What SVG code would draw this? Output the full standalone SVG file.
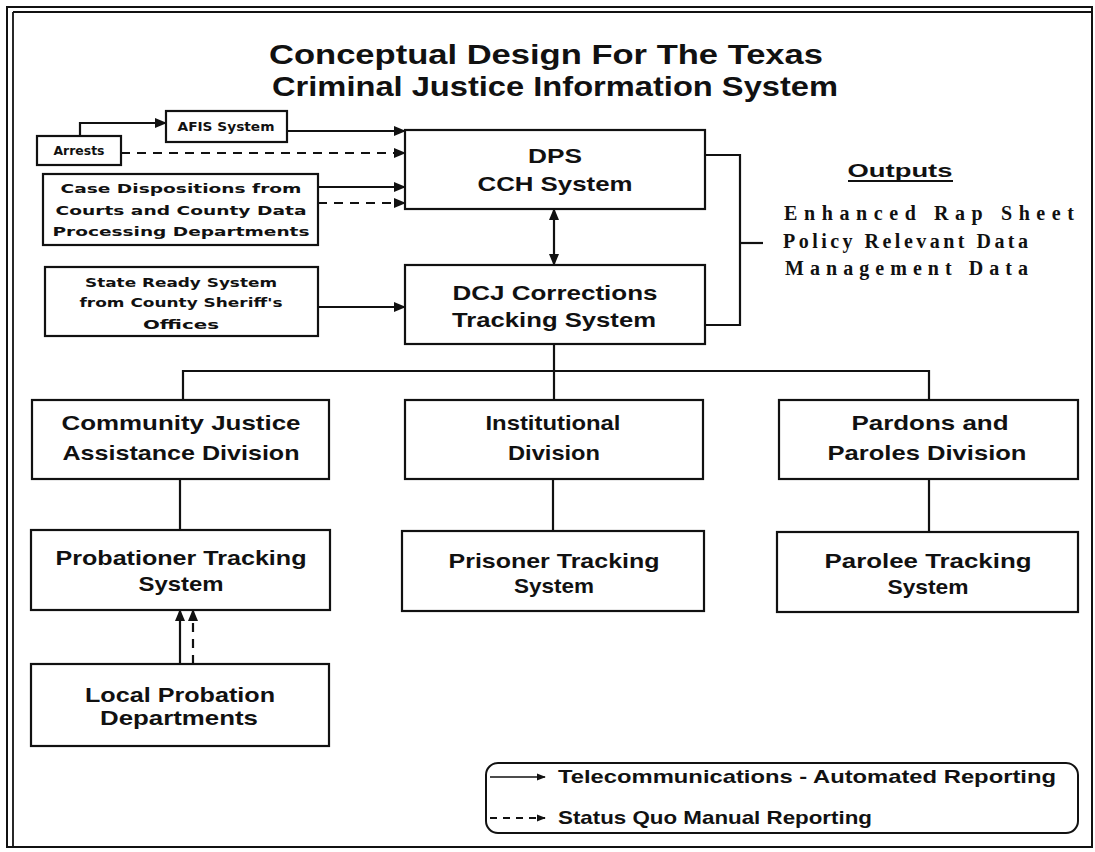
<svg xmlns="http://www.w3.org/2000/svg" width="1095" height="852" viewBox="0 0 1095 852">
<style>
.box{fill:#fff;stroke:#111;stroke-width:2.2}
.t{font-family:"Liberation Sans",Arial,sans-serif;font-weight:bold;fill:#111;text-anchor:middle}
.m{font-size:21px}
.s{font-family:"DejaVu Sans","Liberation Sans",sans-serif;font-weight:bold;font-size:13px;fill:#111;text-anchor:middle}
.title{font-size:28px}
.ln{fill:none;stroke:#111;stroke-width:2.2}
.dash{stroke-dasharray:9,7}
.out{font-family:"Liberation Serif","Times New Roman",serif;font-weight:bold;font-size:20px;fill:#111}
.leg{font-family:"Liberation Sans",Arial,sans-serif;font-weight:bold;font-size:19px;fill:#111}
</style>
<defs>
<marker id="ah" markerUnits="userSpaceOnUse" markerWidth="12" markerHeight="12" viewBox="0 0 12 12" refX="11" refY="6" orient="auto-start-reverse">
<path d="M0,1 L12,6 L0,11 z" fill="#111"/>
</marker>
<marker id="ahs" markerUnits="userSpaceOnUse" markerWidth="9" markerHeight="9" viewBox="0 0 10 10" refX="9" refY="5" orient="auto">
<path d="M0,1 L10,5 L0,9 z" fill="#111"/>
</marker>
</defs>
<rect width="1095" height="852" fill="#fff"/>
<g id="frame">
<rect x="7" y="7" width="1085" height="840" fill="none" stroke="#111" stroke-width="2"/>
<line x1="13" y1="12" x2="13" y2="847" stroke="#111" stroke-width="1.8"/>
<line x1="13" y1="12" x2="1092" y2="12" stroke="#111" stroke-width="1.8"/>
</g>
<g id="title">
<text class="t title" x="546" y="64" textLength="554" lengthAdjust="spacingAndGlyphs">Conceptual Design For The Texas</text>
<text class="t title" x="555" y="96" textLength="566" lengthAdjust="spacingAndGlyphs">Criminal Justice Information System</text>
</g>
<g id="connectors">
<path class="ln" d="M80,136 V123 H166" marker-end="url(#ah)"/>
<path class="ln" d="M287,131 H405" marker-end="url(#ah)"/>
<path class="ln dash" d="M121,153 H405" marker-end="url(#ah)"/>
<path class="ln" d="M318,187 H405" marker-end="url(#ah)"/>
<path class="ln dash" d="M318,203 H405" marker-end="url(#ah)"/>
<path class="ln" d="M318,307 H405" marker-end="url(#ah)"/>
<path class="ln" d="M554,209 V265" marker-start="url(#ah)" marker-end="url(#ah)"/>
<path class="ln" d="M705,155 H740 V325 H705"/>
<path class="ln" d="M740,243 H763"/>
<path class="ln" d="M554,344 V371"/>
<path class="ln" d="M183,400 V371 H929 V400"/>
<path class="ln" d="M554,371 V400"/>
<path class="ln" d="M180,479 V530"/>
<path class="ln" d="M553,479 V531"/>
<path class="ln" d="M929,479 V532"/>
<path class="ln" d="M180,664 V610" marker-end="url(#ah)"/>
<path class="ln dash" d="M193,664 V610" stroke-dasharray="8,6" marker-end="url(#ah)"/>
</g>
<g id="arrests">
<rect class="box" x="37" y="136" width="84" height="29"/>
<text class="s" x="79" y="155" font-size="12" textLength="51" lengthAdjust="spacingAndGlyphs">Arrests</text>
</g>
<g id="afis">
<rect class="box" x="166" y="111" width="121" height="31"/>
<text class="s" x="226" y="131" font-size="12" textLength="97" lengthAdjust="spacingAndGlyphs">AFIS System</text>
</g>
<g id="case">
<rect class="box" x="43" y="174" width="275" height="71"/>
<text class="s" x="181" y="193" textLength="241" lengthAdjust="spacingAndGlyphs">Case Dispositions from</text>
<text class="s" x="181" y="215" textLength="251" lengthAdjust="spacingAndGlyphs">Courts and County Data</text>
<text class="s" x="181" y="236" textLength="257" lengthAdjust="spacingAndGlyphs">Processing Departments</text>
</g>
<g id="state">
<rect class="box" x="45" y="267" width="273" height="69"/>
<text class="s" x="181" y="287" textLength="192" lengthAdjust="spacingAndGlyphs">State Ready System</text>
<text class="s" x="181" y="307" textLength="203" lengthAdjust="spacingAndGlyphs">from County Sheriff's</text>
<text class="s" x="181" y="329" textLength="76" lengthAdjust="spacingAndGlyphs">Offices</text>
</g>
<g id="dps">
<rect class="box" x="405" y="130" width="300" height="79"/>
<text class="t m" x="555" y="163" textLength="54" lengthAdjust="spacingAndGlyphs">DPS</text>
<text class="t m" x="555" y="191" textLength="155" lengthAdjust="spacingAndGlyphs">CCH System</text>
</g>
<g id="dcj">
<rect class="box" x="405" y="265" width="300" height="79"/>
<text class="t m" x="555" y="300" textLength="205" lengthAdjust="spacingAndGlyphs">DCJ Corrections</text>
<text class="t m" x="554" y="327" textLength="204" lengthAdjust="spacingAndGlyphs">Tracking System</text>
</g>
<g id="outputs">
<text class="t" x="900" y="177" font-size="18" textLength="105" lengthAdjust="spacingAndGlyphs">Outputs</text>
<line x1="848" y1="181" x2="953" y2="181" stroke="#111" stroke-width="1.8"/>
<text class="out" x="784" y="220" textLength="290" lengthAdjust="spacing">Enhanced Rap Sheet</text>
<text class="out" x="783" y="248" textLength="245" lengthAdjust="spacing">Policy Relevant Data</text>
<text class="out" x="785" y="275" textLength="243" lengthAdjust="spacing">Management Data</text>
</g>
<g id="community">
<rect class="box" x="32" y="400" width="297" height="79"/>
<text class="t m" x="181" y="430" textLength="239" lengthAdjust="spacingAndGlyphs">Community Justice</text>
<text class="t m" x="181" y="460" textLength="237" lengthAdjust="spacingAndGlyphs">Assistance Division</text>
</g>
<g id="institutional">
<rect class="box" x="405" y="400" width="298" height="79"/>
<text class="t m" x="553" y="430" textLength="135" lengthAdjust="spacingAndGlyphs">Institutional</text>
<text class="t m" x="554" y="460" textLength="92" lengthAdjust="spacingAndGlyphs">Division</text>
</g>
<g id="pardons">
<rect class="box" x="779" y="400" width="299" height="79"/>
<text class="t m" x="930" y="430" textLength="157" lengthAdjust="spacingAndGlyphs">Pardons and</text>
<text class="t m" x="927" y="460" textLength="199" lengthAdjust="spacingAndGlyphs">Paroles Division</text>
</g>
<g id="probationer">
<rect class="box" x="31" y="530" width="299" height="80"/>
<text class="t m" x="181" y="565" textLength="251" lengthAdjust="spacingAndGlyphs">Probationer Tracking</text>
<text class="t m" x="181" y="591" textLength="85" lengthAdjust="spacingAndGlyphs">System</text>
</g>
<g id="prisoner">
<rect class="box" x="402" y="531" width="302" height="80"/>
<text class="t m" x="554" y="568" textLength="211" lengthAdjust="spacingAndGlyphs">Prisoner Tracking</text>
<text class="t m" x="554" y="593" textLength="80" lengthAdjust="spacingAndGlyphs">System</text>
</g>
<g id="parolee">
<rect class="box" x="777" y="532" width="301" height="80"/>
<text class="t m" x="928" y="568" textLength="207" lengthAdjust="spacingAndGlyphs">Parolee Tracking</text>
<text class="t m" x="928" y="594" textLength="81" lengthAdjust="spacingAndGlyphs">System</text>
</g>
<g id="local">
<rect class="box" x="31" y="664" width="298" height="82"/>
<text class="t m" x="180" y="702" textLength="190" lengthAdjust="spacingAndGlyphs">Local Probation</text>
<text class="t m" x="179" y="725" textLength="158" lengthAdjust="spacingAndGlyphs">Departments</text>
</g>
<g id="legend">
<rect x="486" y="763" width="592" height="70" rx="12" fill="none" stroke="#111" stroke-width="2"/>
<line x1="490" y1="777" x2="545" y2="777" stroke="#111" stroke-width="1.5" marker-end="url(#ahs)"/>
<text class="leg" x="558" y="783" textLength="498" lengthAdjust="spacingAndGlyphs">Telecommunications - Automated Reporting</text>
<line x1="490" y1="818" x2="545" y2="818" stroke="#111" stroke-width="1.8" stroke-dasharray="7,6" marker-end="url(#ahs)"/>
<text class="leg" x="558" y="824" textLength="314" lengthAdjust="spacingAndGlyphs">Status Quo Manual Reporting</text>
</g>
</svg>
